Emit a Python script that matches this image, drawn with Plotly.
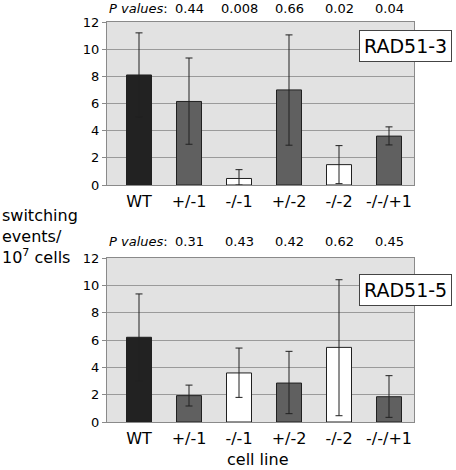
import plotly.graph_objects as go

categories = ["WT", "+/-1", "-/-1", "+/-2", "-/-2", "-/-/+1"]
bar_colors = ["#222222", "#606060", "#ffffff", "#606060", "#ffffff", "#606060"]

# RAD51-3 panel
rad3_values = [8.1, 6.15, 0.48, 7.0, 1.5, 3.6]
rad3_err_hi = [11.2, 9.35, 1.13, 11.05, 2.9, 4.28]
rad3_err_lo = [5.0, 3.0, 0.0, 2.93, 0.1, 2.95]
rad3_p = ["0.44", "0.008", "0.66", "0.02", "0.04"]

# RAD51-5 panel
rad5_values = [6.2, 1.93, 3.59, 2.85, 5.46, 1.85]
rad5_err_hi = [9.37, 2.7, 5.41, 5.17, 10.41, 3.39]
rad5_err_lo = [3.0, 1.17, 1.8, 0.61, 0.46, 0.34]
rad5_p = ["0.31", "0.43", "0.42", "0.62", "0.45"]

y_ticks = [0, 2, 4, 6, 8, 10, 12]

FONT = "DejaVu Sans"

W, H = 456, 470

def px(x):
    return x / W

def py(y):
    return (H - y) / H

fig = go.Figure()

def add_panel(vals, hi, lo, xa, ya):
    fig.add_trace(go.Bar(
        x=categories, y=vals, xaxis=xa, yaxis=ya,
        marker=dict(color=bar_colors, line=dict(color="#202020", width=1)),
        error_y=dict(type="data", symmetric=False,
                     array=[h - v for h, v in zip(hi, vals)],
                     arrayminus=[v - l for v, l in zip(vals, lo)],
                     color="#202020", thickness=1, width=3.5),
        showlegend=False, hoverinfo="skip",
    ))

add_panel(rad3_values, rad3_err_hi, rad3_err_lo, "x", "y")
add_panel(rad5_values, rad5_err_hi, rad5_err_lo, "x2", "y2")

xdom = [px(107), px(414)]
top_dom = [py(185), py(22)]
bot_dom = [py(422), py(258)]

axis_common_x = dict(
    domain=xdom, showline=True, linecolor="#8a8a8a", mirror=True, linewidth=1,
    ticks="outside", ticklen=2, tickcolor="rgba(0,0,0,0)",
    tickfont=dict(family=FONT, size=16, color="black"),
    showgrid=False, automargin=False,
)
axis_common_y = dict(
    range=[0, 12], tickvals=y_ticks, showline=True, linecolor="#8a8a8a",
    mirror=True, linewidth=1, ticks="outside", ticklen=4, tickcolor="#8a8a8a",
    gridcolor="#9a9a9a", gridwidth=1, zeroline=False, automargin=False,
    tickfont=dict(family=FONT, size=13, color="black"),
)

fig.update_layout(
    width=W, height=H,
    margin=dict(l=0, r=0, t=0, b=0),
    paper_bgcolor="white", plot_bgcolor="#e2e2e2",
    bargap=0.5,
    font=dict(family=FONT, color="black"),
    xaxis=dict(**axis_common_x, anchor="y"),
    yaxis=dict(**axis_common_y, domain=top_dom, anchor="x"),
    xaxis2=dict(**axis_common_x, anchor="y2"),
    yaxis2=dict(**axis_common_y, domain=bot_dom, anchor="x2"),
)

ann = []
for p_list, xref, ypix in [(rad3_p, "x", 8), (rad5_p, "x2", 242)]:
    ann.append(dict(x=0.62, y=py(ypix), xref=xref, yref="paper",
                    text="<i>P values</i>:", showarrow=False, xanchor="right",
                    yanchor="middle", font=dict(family=FONT, size=13)))
    for c, p in zip(categories[1:], p_list):
        ann.append(dict(x=c, y=py(ypix), xref=xref, yref="paper",
                        text=p, showarrow=False, yanchor="middle",
                        font=dict(family=FONT, size=13)))

for label, ycen in [("RAD51-3", 46), ("RAD51-5", 290)]:
    ann.append(dict(x=px(405), y=py(ycen), xref="paper", yref="paper",
                    xanchor="center", yanchor="middle",
                    text=label, showarrow=False, bgcolor="white", bordercolor="#444",
                    borderwidth=1, borderpad=4, font=dict(family=FONT, size=19)))
ann.append(dict(x=px(0), y=py(236), xref="paper", yref="paper",
                text="switching<br>events/<br>10<sup>7</sup> cells", showarrow=False,
                xanchor="left", yanchor="middle", align="left",
                font=dict(family=FONT, size=16)))
ann.append(dict(x=px(258), y=py(459), xref="paper", yref="paper",
                xanchor="center", yanchor="middle",
                text="cell line", showarrow=False, font=dict(family=FONT, size=16)))
fig.update_layout(annotations=ann)

fig.write_html("out.html",
               config={"displayModeBar": False},
               post_script="document.body.style.margin='0';document.body.style.overflow='hidden';")
